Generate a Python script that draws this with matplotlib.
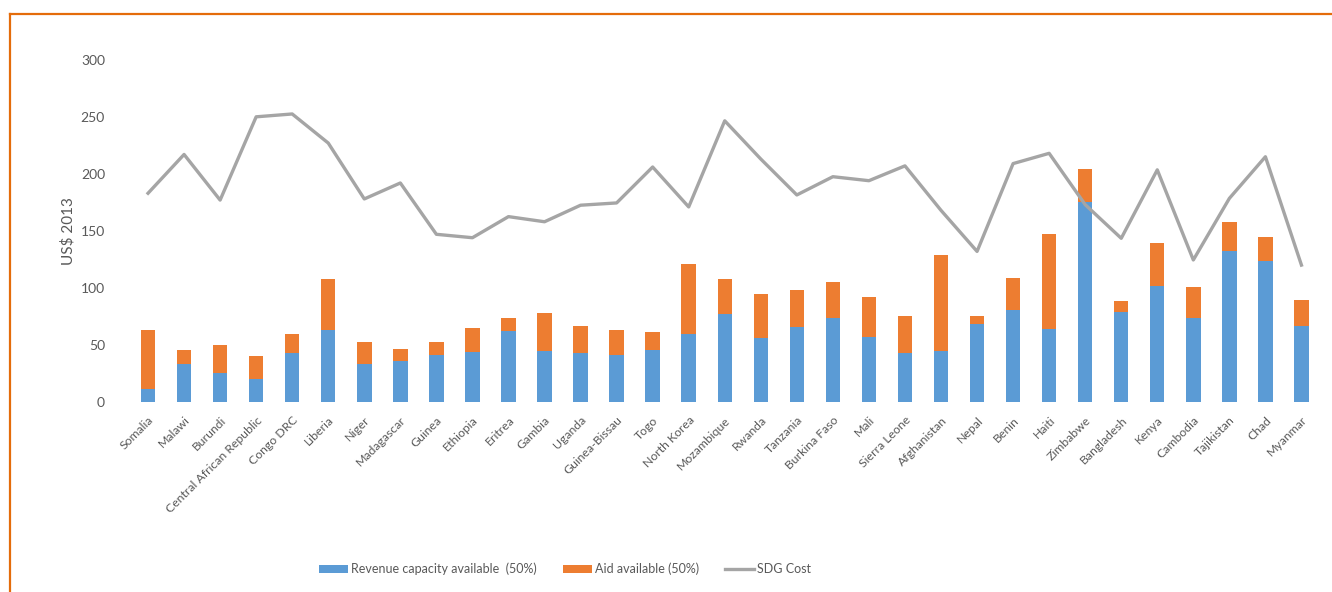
import matplotlib.pyplot as plt
import numpy as np

plt.rcParams['font.family'] = ['Lato', 'DejaVu Sans']

countries = ["Somalia", "Malawi", "Burundi", "Central African Republic", "Congo DRC",
             "Liberia", "Niger", "Madagascar", "Guinea", "Ethiopia", "Eritrea", "Gambia",
             "Uganda", "Guinea-Bissau", "Togo", "North Korea", "Mozambique", "Rwanda",
             "Tanzania", "Burkina Faso", "Mali", "Sierra Leone", "Afghanistan", "Nepal",
             "Benin", "Haiti", "Zimbabwe", "Bangladesh", "Kenya", "Cambodia", "Tajikistan",
             "Chad", "Myanmar"]

# revenue capacity (blue part of each bar)
revenue = [11.5, 33.5, 25.5, 20, 42.5, 63.5, 33.5, 36, 41, 44, 62, 44.5,
           42.5, 41, 46, 60, 77.5, 56.5, 65.5, 74, 57, 42.5, 44.5, 68.5,
           81, 64, 175.5, 79, 102, 74, 132, 123.5, 67]
# bar totals, revenue + aid
total = [63, 45.5, 50, 40.5, 59.5, 108, 52.5, 46.5, 52.5, 65, 73.5, 78,
         66.5, 63, 61.5, 121, 108, 94.5, 98, 105, 92, 75, 129, 75.5,
         109, 147.5, 204.5, 88.5, 139.5, 101, 158, 144.5, 89.5]
aid = [t - r for t, r in zip(total, revenue)]

sdg_cost = [183, 217, 177, 250, 252.5, 227, 178, 192, 147, 144, 162.5, 158,
            172.5, 174.5, 206, 171, 246.5, 213, 181.5, 197.5, 194, 207, 168, 132,
            209, 218, 173, 143.5, 203.5, 124.5, 178.5, 215, 120]

blue = '#5B9BD5'
orange = '#ED7D31'
grey = '#A5A5A5'
txt = '#595959'

fig = plt.figure(figsize=(13.32, 5.92), dpi=100)
ax = fig.add_axes([0.0976, 0.321, 0.893, 0.578])

x = np.arange(len(countries))
b1 = ax.bar(x, revenue, width=0.4, color=blue)
b2 = ax.bar(x, aid, width=0.4, bottom=revenue, color=orange)
ln, = ax.plot(x, sdg_cost, color=grey, lw=2.4)

ax.set_xlim(-0.5, len(countries) - 0.5)
ax.set_ylim(0, 300)
ax.set_yticks(range(0, 301, 50))
for s in ax.spines.values():
    s.set_visible(False)
ax.tick_params(axis='both', length=0, colors=txt)
ax.tick_params(axis='y', labelsize=10, pad=18)
ax.set_xticks(x)
ax.set_xticklabels(countries, rotation=45, ha='right', rotation_mode='anchor', fontsize=8.8)
ax.tick_params(axis='x', pad=9)
ax.set_ylabel('US$ 2013', fontsize=11, color=txt, labelpad=4)

leg = ax.legend([b1, b2, ln],
                ['Revenue capacity available  (50%)', 'Aid available (50%)', 'SDG Cost'],
                loc='center', bbox_to_anchor=(565 / 1332, 1 - 569 / 592),
                bbox_transform=fig.transFigure, ncol=3, frameon=False,
                fontsize=9, handlelength=2.3, handleheight=0.6,
                handletextpad=0.25, columnspacing=2.1)
for t in leg.get_texts():
    t.set_color(txt)

# orange outline along the top and left of the chart area
fig.add_artist(plt.Line2D([10 / 1332, 1], [1 - 14 / 592, 1 - 14 / 592],
                          transform=fig.transFigure, color='#E46C0A', lw=1.6))
fig.add_artist(plt.Line2D([10 / 1332, 10 / 1332], [0, 1 - 14 / 592],
                          transform=fig.transFigure, color='#E46C0A', lw=1.6))

fig.savefig('out.png', dpi=100)
